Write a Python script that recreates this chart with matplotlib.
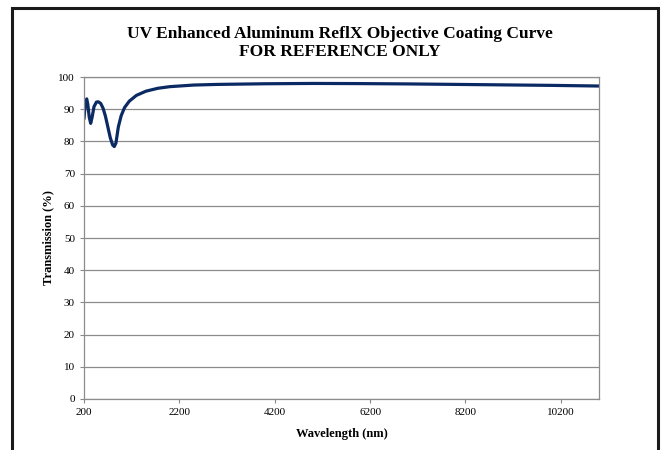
import matplotlib.pyplot as plt
from matplotlib.patches import Rectangle

# values
wavelength = [200, 220, 240, 257, 280, 310, 340, 370, 410, 460, 500, 550, 600,
              650, 700, 750, 800, 835, 870, 920, 980, 1050, 1150, 1300, 1500,
              1750, 2000, 2500, 3000, 4000, 5000, 6000, 7000, 8000, 9000,
              10000, 11000]
transmission = [87.0, 90.5, 92.6, 93.2, 91.5, 87.5, 85.6, 87.5, 90.8, 92.2,
                92.3, 91.8, 90.3, 87.8, 84.5, 81.2, 78.9, 78.4, 79.5, 84.5,
                88.0, 90.5, 92.5, 94.3, 95.6, 96.5, 97.0, 97.5, 97.7, 97.9,
                98.0, 97.95, 97.85, 97.7, 97.55, 97.4, 97.2]
xticks = [200, 2200, 4200, 6200, 8200, 10200]
yticks = list(range(0, 101, 10))

plt.rcParams['font.family'] = ['Liberation Serif', 'DejaVu Serif']

fig = plt.figure(figsize=(6.64, 4.5), dpi=100)
ax = fig.add_axes([84 / 664, 51 / 450, 515 / 664, 322 / 450])

ax.plot(wavelength, transmission, color='#0b2a63', lw=2.3, solid_capstyle='round')
ax.set_xlim(200, 11000)
ax.set_ylim(0, 100)
ax.set_xticks(xticks)
ax.set_yticks(yticks)
ax.tick_params(labelsize=8, length=3, color='#888888')
ax.grid(axis='y', color='#8c8c8c', lw=0.9)
ax.set_axisbelow(True)
for s in ax.spines.values():
    s.set_color('#8c8c8c')
    s.set_linewidth(0.9)

ax.set_xlabel('Wavelength (nm)', fontsize=9, fontweight='bold', labelpad=8)
ax.set_ylabel('Transmission (%)', fontsize=9, fontweight='bold', labelpad=3)

fig.text(0.512, 0.904, 'UV Enhanced Aluminum ReflX Objective Coating Curve\nFOR REFERENCE ONLY',
         ha='center', va='center', fontsize=12.5, fontweight='bold', linespacing=1.2)

# outer chart frame
fig.patches.append(Rectangle((12 / 664, -0.05), 646 / 664, 1.05 - 8 / 450,
                             transform=fig.transFigure, fill=False,
                             edgecolor='#1a1a1a', lw=2.2))

fig.savefig('out.png', dpi=100)
